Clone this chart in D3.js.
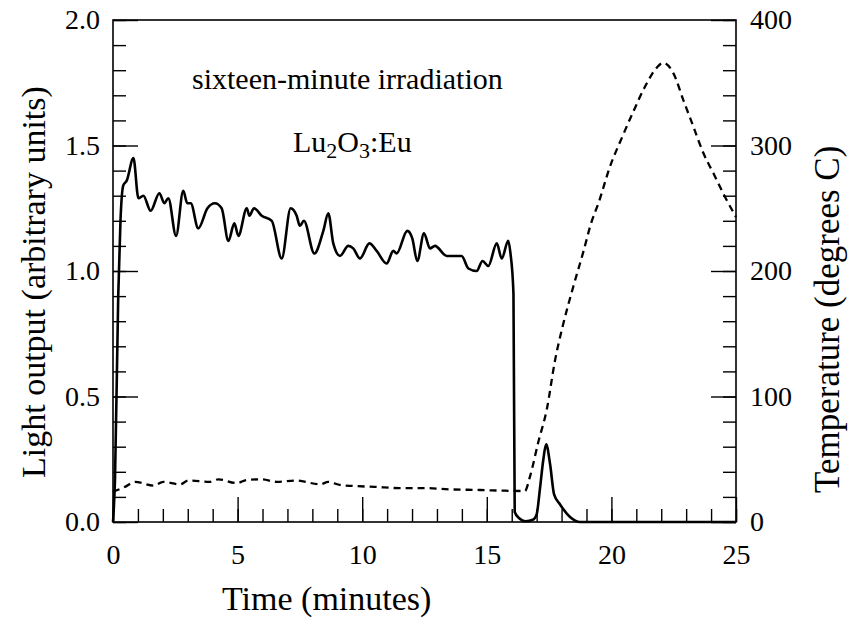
<!DOCTYPE html>
<html>
<head>
<meta charset="utf-8">
<script src="https://cdn.jsdelivr.net/npm/d3@7"></script>
<style>
  html, body { margin: 0; padding: 0; background: #fff; }
  svg { display: block; }
  text { font-family: "Liberation Serif", "Times New Roman", serif; fill: #000; }
</style>
</head>
<body>
<svg id="chart" width="848" height="618"></svg>
<script>
// ---- Data ----
const lightTime = [0, 0.08, 0.21, 0.30, 0.41, 0.55, 0.82, 1.02, 1.22, 1.51, 1.86, 2.06, 2.22, 2.53, 2.82, 2.98, 3.12, 3.42, 3.79, 4.09, 4.36, 4.63, 4.87, 5.03, 5.37, 5.47, 5.66, 5.97, 6.37, 6.77, 7.13, 7.37, 7.50, 7.66, 8.08, 8.44, 8.64, 8.84, 9.11, 9.44, 9.64, 9.91, 10.29, 10.58, 10.98, 11.25, 11.38, 11.81, 12.01, 12.21, 12.48, 12.72, 12.92, 13.39, 13.99, 14.26, 14.59, 14.83, 15.06, 15.40, 15.60, 15.86, 15.95, 16.07, 16.12, 16.30, 16.55, 16.87, 17.00, 17.13, 17.27, 17.38, 17.54, 17.70, 17.94, 18.34, 18.74, 25];
const lightOutput = [0, 0.17, 0.90, 1.20, 1.34, 1.36, 1.45, 1.29, 1.30, 1.24, 1.31, 1.27, 1.29, 1.14, 1.32, 1.27, 1.27, 1.17, 1.25, 1.27, 1.25, 1.12, 1.19, 1.14, 1.25, 1.22, 1.25, 1.22, 1.20, 1.05, 1.25, 1.22, 1.18, 1.20, 1.07, 1.16, 1.23, 1.11, 1.06, 1.10, 1.09, 1.05, 1.11, 1.08, 1.03, 1.08, 1.07, 1.16, 1.13, 1.04, 1.15, 1.09, 1.10, 1.06, 1.06, 1.01, 1.00, 1.04, 1.02, 1.11, 1.05, 1.12, 1.07, 0.91, 0.04, 0.015, 0.003, 0.01, 0.03, 0.13, 0.25, 0.31, 0.23, 0.11, 0.07, 0.02, 0.0, 0.0];

const tempTime = [0, 0.48, 0.88, 1.62, 2.02, 2.69, 3.02, 3.89, 4.23, 4.96, 5.37, 5.97, 6.57, 7.37, 8.31, 8.64, 9.11, 9.64, 10.5, 11.5, 12.5, 13.5, 14.73, 15.6, 16.53, 16.73, 17.07, 17.40, 17.74, 18.07, 18.47, 18.87, 19.2, 19.48, 19.94, 20.41, 20.88, 21.35, 21.82, 22.08, 22.49, 22.89, 23.29, 23.69, 24.09, 24.56, 25];
const temperature = [24, 28, 32, 29, 32, 30, 33, 32, 34, 31, 33.5, 34, 32, 33, 30, 32, 29.5, 28.7, 28, 27, 27, 26, 25.5, 25, 24.7, 36, 64, 89, 129, 158, 187.5, 215, 239, 254, 283, 305.7, 327, 347, 362, 366, 357.5, 336, 315, 294, 278, 259, 243];

const xMajorTicks = [0, 5, 10, 15, 20, 25];
const leftMajorTicks = [0, 0.5, 1.0, 1.5, 2.0];
const rightMajorTicks = [0, 100, 200, 300, 400];

const xTitle = "Time (minutes)";
const leftTitle = "Light output (arbitrary units)";
const rightTitle = "Temperature (degrees C)";
const annotation = "sixteen-minute irradiation";

// ---- Layout ----
const svg = d3.select("#chart");
const X0 = 113, X1 = 736, Y0 = 522, Y1 = 20;

const x = d3.scaleLinear().domain([0, 25]).range([X0, X1]);
const yL = d3.scaleLinear().domain([0, 2]).range([Y0, Y1]);
const yR = d3.scaleLinear().domain([0, 400]).range([Y0, Y1]);

const tickFont = "28px";

function styleAxis(g) {
  g.select(".domain").remove();
  g.selectAll(".tick line").attr("stroke", "#000").attr("stroke-width", 1.4);
  g.selectAll("text").style("font-size", tickFont).style("font-family", '"Liberation Serif", serif');
}

// minor ticks
svg.append("g").attr("transform", `translate(0,${Y0})`)
  .call(d3.axisBottom(x).tickValues(d3.range(0, 26, 1)).tickSize(-13).tickFormat(""))
  .call(styleAxis);
svg.append("g").attr("transform", `translate(${X0},0)`)
  .call(d3.axisLeft(yL).tickValues(d3.range(0, 2.01, 0.1)).tickSize(-13).tickFormat(""))
  .call(styleAxis);
svg.append("g").attr("transform", `translate(${X1},0)`)
  .call(d3.axisRight(yR).tickValues(d3.range(0, 401, 20)).tickSize(-13).tickFormat(""))
  .call(styleAxis);

// major ticks with labels
svg.append("g").attr("transform", `translate(0,${Y0})`)
  .call(d3.axisBottom(x).tickValues(xMajorTicks).tickSize(-25).tickPadding(22).tickFormat(d3.format("d")))
  .call(styleAxis);
svg.append("g").attr("transform", `translate(${X0},0)`)
  .call(d3.axisLeft(yL).tickValues(leftMajorTicks).tickSize(-25).tickPadding(13).tickFormat(d3.format(".1f")))
  .call(styleAxis);
svg.append("g").attr("transform", `translate(${X1},0)`)
  .call(d3.axisRight(yR).tickValues(rightMajorTicks).tickSize(-25).tickPadding(14).tickFormat(d3.format("d")))
  .call(styleAxis);

// frame
svg.append("rect")
  .attr("x", X0).attr("y", Y1).attr("width", X1 - X0).attr("height", Y0 - Y1)
  .attr("fill", "none").attr("stroke", "#000").attr("stroke-width", 1.6);

// lines
const lightLine = d3.line()
  .x((d, i) => x(lightTime[i]))
  .y(d => yL(d))
  .curve(d3.curveMonotoneX);
svg.append("path")
  .attr("d", lightLine(lightOutput))
  .attr("fill", "none").attr("stroke", "#000").attr("stroke-width", 2.6)
  .attr("stroke-linejoin", "round");

const tempLine = d3.line()
  .x((d, i) => x(tempTime[i]))
  .y(d => yR(d))
  .curve(d3.curveMonotoneX);
svg.append("path")
  .attr("d", tempLine(temperature))
  .attr("fill", "none").attr("stroke", "#000").attr("stroke-width", 2.3)
  .attr("stroke-dasharray", "7,5");

// axis titles
svg.append("text")
  .attr("x", 222).attr("y", 610)
  .style("font-size", "34px")
  .text(xTitle);

svg.append("text")
  .attr("transform", `translate(45,478) rotate(-90)`)
  .style("font-size", "34px")
  .text(leftTitle);

svg.append("text")
  .attr("transform", `translate(839,493) rotate(-90)`)
  .style("font-size", "35px")
  .text(rightTitle);

// annotations
svg.append("text")
  .attr("x", 192).attr("y", 89)
  .style("font-size", "30px")
  .text(annotation);

const formula = svg.append("text")
  .attr("x", 293).attr("y", 152)
  .style("font-size", "30px");
formula.append("tspan").text("Lu");
formula.append("tspan").attr("dy", 6).style("font-size", "22px").text("2");
formula.append("tspan").attr("dy", -6).text("O");
formula.append("tspan").attr("dy", 6).style("font-size", "22px").text("3");
formula.append("tspan").attr("dy", -6).text(":Eu");
</script>
</body>
</html>
